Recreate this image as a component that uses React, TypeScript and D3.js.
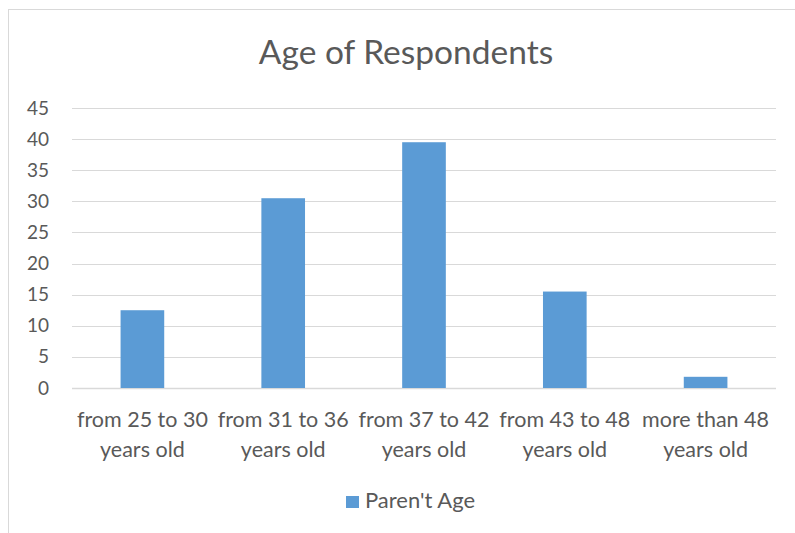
import { useEffect, useRef } from 'react';
import * as d3 from 'd3';

const categories = [
    ['from 25 to 30', 'years old'],
    ['from 31 to 36', 'years old'],
    ['from 37 to 42', 'years old'],
    ['from 43 to 48', 'years old'],
    ['more than 48', 'years old'],
];
const parentAge = [12.5, 30.5, 39.5, 15.5, 1.8];
const yTicks = [0, 5, 10, 15, 20, 25, 30, 35, 40, 45];
const seriesName = "Paren't Age";
const title = 'Age of Respondents';

const W = 795;
const H = 533;
const FONT = 'Lato, "Open Sans", sans-serif';
const TEXT = '#595959';
const BAR = '#5B9BD5';
const GRID = '#D9D9D9';

function App() {
    const svgRef = useRef<SVGSVGElement>(null);

    useEffect(() => {
        const svg = d3.select(svgRef.current);
        svg.selectAll('*').remove();

        // outer chart frame
        svg.append('rect')
            .attr('x', 8.5).attr('y', 9.5)
            .attr('width', 800).attr('height', 540)
            .attr('fill', '#fff')
            .attr('stroke', GRID);

        svg.append('text')
            .attr('x', 406).attr('y', 64)
            .attr('text-anchor', 'middle')
            .attr('font-family', FONT)
            .attr('font-size', 33.5)
            .attr('fill', TEXT)
            .text(title);

        const x = d3.scaleBand<number>()
            .domain(d3.range(categories.length))
            .range([72, 776])
            .paddingInner(0.69)
            .paddingOuter(0.345);

        const y = d3.scaleLinear()
            .domain([0, 45])
            .range([388, 108]);

        // gridlines
        svg.append('g')
            .selectAll('line')
            .data(yTicks)
            .join('line')
            .attr('x1', 72).attr('x2', 776)
            .attr('y1', d => Math.round(y(d)) + 0.5)
            .attr('y2', d => Math.round(y(d)) + 0.5)
            .attr('stroke', GRID)
            .attr('stroke-width', d => d === 0 ? 1.5 : 1);

        // y tick labels
        svg.append('g')
            .selectAll('text')
            .data(yTicks)
            .join('text')
            .attr('x', 49)
            .attr('y', d => y(d) + 6.5)
            .attr('text-anchor', 'end')
            .attr('font-family', FONT)
            .attr('font-size', 19)
            .attr('fill', TEXT)
            .text(d => d);

        // bars
        svg.append('g')
            .selectAll('rect')
            .data(parentAge)
            .join('rect')
            .attr('x', (_, i) => x(i)!)
            .attr('width', x.bandwidth())
            .attr('y', d => y(d))
            .attr('height', d => y(0) - y(d))
            .attr('fill', BAR);

        // category labels, two lines each
        svg.append('g')
            .selectAll('text')
            .data(categories)
            .join('text')
            .attr('text-anchor', 'middle')
            .attr('font-family', FONT)
            .attr('font-size', 21.5)
            .attr('fill', TEXT)
            .each(function (lines, i) {
                const cx = x(i)! + x.bandwidth() / 2;
                d3.select(this).selectAll('tspan')
                    .data(lines)
                    .join('tspan')
                    .attr('x', cx)
                    .attr('y', (_, j) => 427 + j * 30)
                    .text(d => d);
            });

        // legend
        const lg = svg.append('g');
        lg.append('rect')
            .attr('x', 346).attr('y', 496)
            .attr('width', 13).attr('height', 12)
            .attr('fill', BAR);
        lg.append('text')
            .attr('x', 365).attr('y', 508)
            .attr('font-family', FONT)
            .attr('font-size', 22)
            .attr('fill', TEXT)
            .text(seriesName);
    }, []);

    return (
        <svg
            ref={svgRef}
            width={W}
            height={H}
            style={{ position: 'absolute', left: 0, top: 0, background: '#fff' }}
        />
    );
}

export default App;
